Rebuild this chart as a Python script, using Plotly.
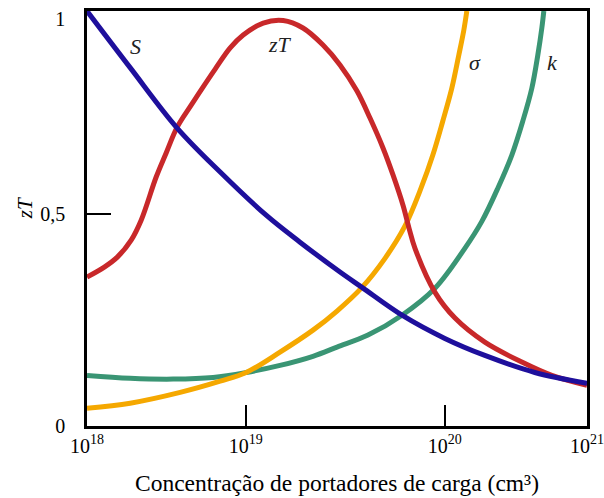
import plotly.graph_objects as go

# x in log10(concentration) units, y normalized (0..1)
x_tick_vals = [18.0, 18.953, 20.147, 21.0]
x_tick_text = ["10<sup>18</sup>", "10<sup>19</sup>", "10<sup>20</sup>", "10<sup>21</sup>"]
y_tick_vals = [0.0, 0.51, 0.98]
y_tick_text = ["0", "0,5", "1"]

s_x = [18.0, 18.26, 18.541, 18.799, 19.075, 19.278, 19.518, 19.65, 19.89, 20.147, 20.387, 20.687, 21.0]
s_y = [1.0, 0.863, 0.718, 0.612, 0.508, 0.443, 0.371, 0.334, 0.267, 0.211, 0.170, 0.129, 0.103]

zt_x = [18.0, 18.104, 18.182, 18.265, 18.325, 18.415, 18.475, 18.541, 18.625, 18.685,
        18.769, 18.859, 18.937, 19.057, 19.177, 19.296, 19.416, 19.518, 19.62, 19.698, 19.776,
        19.836, 19.896, 19.932, 19.968, 20.088, 20.208, 20.387, 20.609, 20.789, 21.0]
zt_y = [0.359, 0.383, 0.407, 0.448, 0.496, 0.600, 0.658, 0.720, 0.773, 0.810,
        0.860, 0.911, 0.942, 0.971, 0.977, 0.959, 0.918, 0.870, 0.807, 0.742, 0.670,
        0.605, 0.532, 0.477, 0.428, 0.322, 0.260, 0.202, 0.154, 0.122, 0.098]

sigma_x = [18.0, 18.259, 18.559, 18.799, 18.955, 19.158, 19.356, 19.5, 19.65, 19.788, 19.908,
           20.004, 20.075, 20.135, 20.189, 20.231, 20.261, 20.279]
sigma_y = [0.043, 0.055, 0.081, 0.108, 0.129, 0.178, 0.231, 0.277, 0.334, 0.404, 0.482,
           0.573, 0.653, 0.735, 0.814, 0.894, 0.954, 1.0]

k_x = [18.0, 18.259, 18.517, 18.757, 18.955, 19.158, 19.356, 19.5, 19.686, 19.89, 20.088,
       20.267, 20.369, 20.465, 20.549, 20.615, 20.669, 20.705, 20.729, 20.741]
k_y = [0.122, 0.115, 0.113, 0.117, 0.129, 0.146, 0.168, 0.190, 0.219, 0.267, 0.332,
       0.428, 0.493, 0.573, 0.653, 0.735, 0.814, 0.894, 0.959, 1.0]

BLUE = "#1E0F9C"
RED = "#C8282A"
YELLOW = "#F5A800"
GREEN = "#3A9574"
SERIF = "Liberation Serif, Times New Roman, serif"

fig = go.Figure()
for xs, ys, c in [(k_x, k_y, GREEN), (sigma_x, sigma_y, YELLOW), (zt_x, zt_y, RED), (s_x, s_y, BLUE)]:
    fig.add_trace(go.Scatter(x=xs, y=ys, mode="lines",
                             line=dict(color=c, width=5, shape="spline", smoothing=1.0),
                             showlegend=False, hoverinfo="skip"))

labels = [("S", 18.29, 0.915), ("zT", 19.158, 0.92), ("σ", 20.33, 0.876), ("k", 20.795, 0.876)]
for t, x, y in labels:
    fig.add_annotation(x=x, y=y, xref="x", yref="y", text=f"<i>{t}</i>", showarrow=False,
                       font=dict(family=SERIF, size=22, color="#222"))

# y-axis title placed as a rotated annotation
fig.add_annotation(x=-0.124, y=0.525, xref="paper", yref="paper", text="<i>zT</i>",
                   textangle=-90, showarrow=False, xanchor="center", yanchor="middle",
                   font=dict(family=SERIF, size=21, color="black"))

fig.update_layout(
    width=604, height=498,
    margin=dict(l=87, r=17, t=11, b=72),
    paper_bgcolor="white", plot_bgcolor="white",
    font=dict(family=SERIF, color="black"),
)
fig.update_xaxes(
    range=[18, 21], showgrid=False, zeroline=False, automargin=False,
    showline=True, linecolor="black", linewidth=2.5, mirror=True,
    tickmode="array", tickvals=x_tick_vals, ticktext=x_tick_text,
    ticks="inside", ticklen=21, tickwidth=1.5, tickcolor="black",
    tickfont=dict(family=SERIF, size=20, color="black"),
    title=dict(text="Concentração de portadores de carga (cm³)",
               font=dict(family=SERIF, size=23.5, color="black"), standoff=19),
)
fig.update_yaxes(
    range=[0, 1], showgrid=False, zeroline=False, automargin=False,
    showline=True, linecolor="black", linewidth=2.5, mirror=True,
    tickmode="array", tickvals=y_tick_vals, ticktext=y_tick_text,
    ticks="", ticklabelstandoff=15,
    tickfont=dict(family=SERIF, size=20, color="black"),
    minor=dict(tickmode="array", tickvals=[y_tick_vals[1]], ticks="inside", ticklen=24,
               tickwidth=1.5, tickcolor="black", showgrid=False),
)

fig.write_html("out.html")
